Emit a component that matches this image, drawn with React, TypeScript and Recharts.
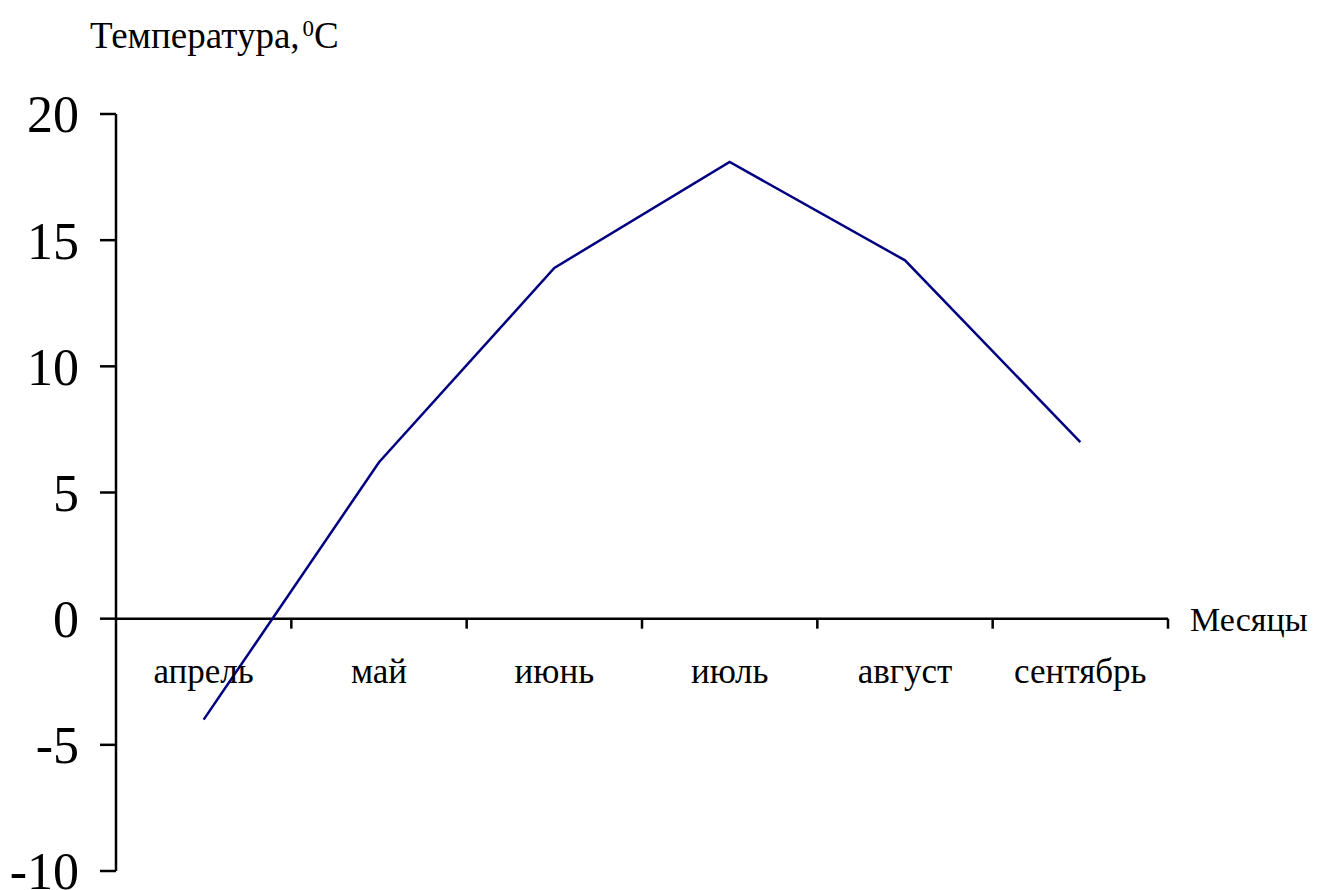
import React from 'react';
import { LineChart, Line, XAxis, YAxis, ReferenceLine } from 'recharts';

const months = ['апрель', 'май', 'июнь', 'июль', 'август', 'сентябрь'];
const temps = [-4, 6.2, 13.9, 18.1, 14.2, 7.0];
const yTicks = [-10, -5, 0, 5, 10, 15, 20];

const data = months.map((m, i) => ({ month: m, t: temps[i] }));

const W = 1317;
const H = 890;
const MARGIN = { top: 114, right: 149, left: 0, bottom: 0 };
const Y_AXIS_W = 116;
const X_AXIS_H = 19;
const Y_MIN = -10;
const Y_MAX = 20;
const FONT = '"Liberation Serif", "Times New Roman", serif';

const plotW = W - MARGIN.left - MARGIN.right - Y_AXIS_W;
const plotH = H - MARGIN.top - MARGIN.bottom - X_AXIS_H;
const band = plotW / months.length;
// x axis crosses at zero
const zeroY = MARGIN.top + (plotH * Y_MAX) / (Y_MAX - Y_MIN);

const MonthTick = ({ x, payload }: any) => {
  const edge = x + band / 2;
  return (
    <g>
      <line x1={edge} y1={zeroY} x2={edge} y2={zeroY + 10} stroke="#000" strokeWidth={2.5} />
      <text x={x} y={zeroY + 64} textAnchor="middle" fontSize={35} fontFamily={FONT} fill="#000">
        {payload.value}
      </text>
    </g>
  );
};

const App = () => {
  return (
    <div style={{ position: 'absolute', left: 0, top: 0, width: W, height: H, background: '#fff' }}>
      <svg style={{ position: 'absolute', left: 0, top: 0 }} width={400} height={70}>
        <text x={90} y={48} fontSize={37} fontFamily={FONT} fill="#000">
          Температура,
          <tspan dx={3} dy={-12} fontSize={23}>0</tspan>
          <tspan dy={12}>C</tspan>
        </text>
      </svg>
      <LineChart width={W} height={H} data={data} margin={MARGIN}>
        <XAxis
          dataKey="month"
          height={X_AXIS_H}
          padding={{ left: band / 2, right: band / 2 }}
          axisLine={false}
          tickLine={false}
          tick={<MonthTick />}
          interval={0}
        />
        <YAxis
          width={Y_AXIS_W}
          domain={[Y_MIN, Y_MAX]}
          ticks={yTicks}
          interval={0}
          tickSize={16}
          tickMargin={21}
          axisLine={{ stroke: '#000', strokeWidth: 2.5 }}
          tickLine={{ stroke: '#000', strokeWidth: 2.5 }}
          tick={{ fill: '#000', fontSize: 52, fontFamily: FONT }}
        />
        <ReferenceLine
          y={0}
          stroke="#000"
          strokeWidth={2.5}
          label={{ value: 'Месяцы', position: 'right', offset: 22, fill: '#000', fontSize: 34, fontFamily: FONT }}
        />
        <Line
          type="linear"
          dataKey="t"
          stroke="#000080"
          strokeWidth={2.5}
          dot={false}
          isAnimationActive={false}
        />
      </LineChart>
    </div>
  );
};

export default App;
